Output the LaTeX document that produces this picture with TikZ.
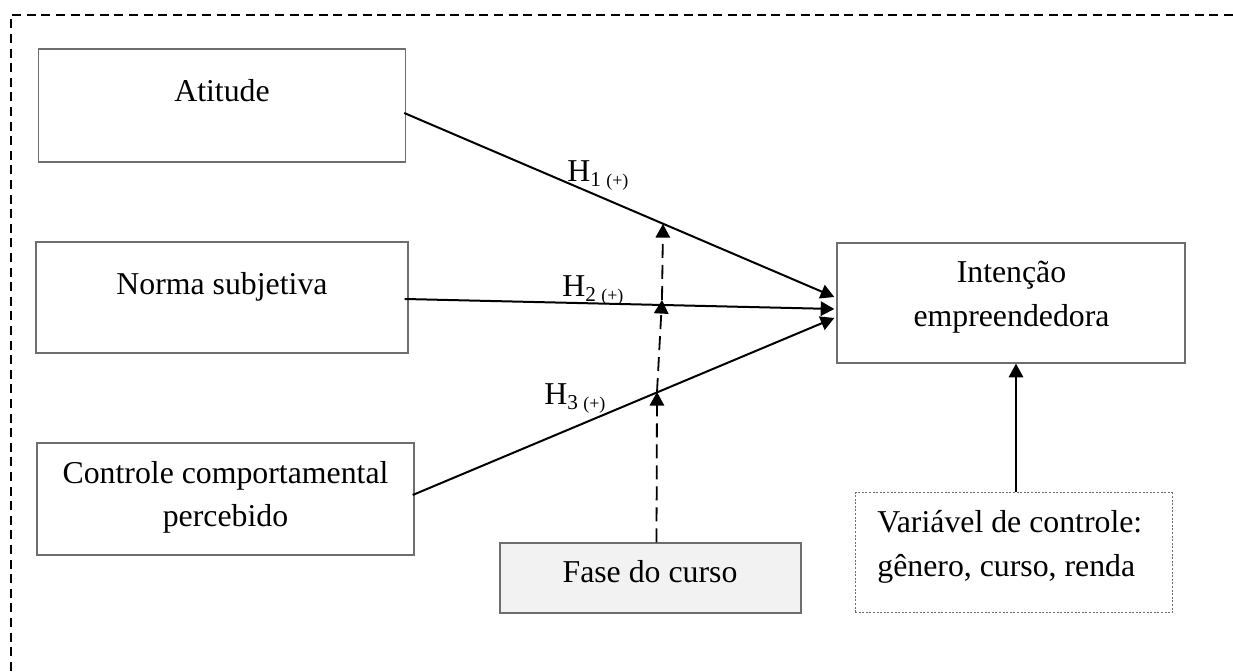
\documentclass[tikz,border=0pt]{standalone}
\usepackage{fontspec}
\setmainfont{Liberation Serif}
\usetikzlibrary{arrows.meta,calc}
\newcommand{\hsub}[1]{\raisebox{-2.5pt}{\fontsize{10.6}{11}\selectfont #1\ \fontsize{9}{10}\selectfont(+)}}
\begin{document}
\begin{tikzpicture}[x=0.5pt,y=-0.5pt,
  box/.style={draw=boxgray,line width=0.7pt,rectangle,inner sep=0pt},
  txt/.style={inner sep=0pt,font=\fontsize{15.9}{21.7}\selectfont},
  hlabel/.style={inner sep=0pt,anchor=base west,font=\fontsize{15.9}{16.8}\selectfont},
  arr/.style={line width=1pt,-{Triangle[length=6.8pt,width=7.2pt]}},
  darr/.style={line width=0.9pt,dash pattern=on 7pt off 3.5pt,-{Triangle[length=6.8pt,width=7.2pt]}},
]
\definecolor{boxgray}{RGB}{110,110,110}
\definecolor{fasefill}{RGB}{242,242,242}
\useasboundingbox (0,0) rectangle (1233,672);
% outer dashed frame (only top and left visible)
\draw[line width=1pt,dash pattern=on 4.5pt off 2.8pt] (11,700) -- (11,15) -- (1260,15);

% boxes
\node[box,minimum width=183.5pt,minimum height=56.5pt] (atitude) at (222,105.5) {};
\node[box,minimum width=186pt,minimum height=55.5pt] (norma) at (222,297.5) {};
\node[box,minimum width=188.5pt,minimum height=56pt] (controle) at (225.5,499) {};
\node[box,fill=fasefill,minimum width=150.5pt,minimum height=35pt] (fase) at (650.5,578) {};
\node[box,draw=boxgray,line width=0.5pt,dash pattern=on 1pt off 0.8pt,minimum width=158.5pt,minimum height=60pt] (variavel) at (1013.5,553) {};
\node[box,minimum width=174pt,minimum height=60pt] (intencao) at (1011,303) {};

% texts
\node[txt,anchor=base] (atitudeT) at (222,102) {Atitude};
\node[txt,anchor=base] (normaT) at (222,295) {Norma subjetiva};
\node[txt,align=center] (controleT) at (225.5,497.5) {Controle comportamental\\percebido};
\node[txt] (faseT) at (650,572) {Fase do curso};
\node[txt,align=left,anchor=west] (variavelT) at (877,546.7) {Variável de controle:\\gênero, curso, renda};
\node[txt,align=center] (intencaoT) at (1011.5,297.2) {Intenção\\empreendedora};

% hypothesis labels
\node[hlabel] (h1) at (567,182) {H\hsub{1}};
\node[hlabel] (h2) at (562,297) {H\hsub{2}};
\node[hlabel] (h3) at (544,405) {H\hsub{3}};

% main arrows
\draw[arr] ([shift={(-2,7.5)}]atitude.east) -- ([shift={(-2,-6)}]intencao.west);
\draw[arr] ([shift={(-4,1.5)}]norma.east) -- ([shift={(-2,6)}]intencao.west);
\draw[arr] ([shift={(-2,-4)}]controle.east) -- ([shift={(-2,15)}]intencao.west);

% moderator dashed arrows
\coordinate (f0) at ([shift={(6,0)}]fase.north);
\coordinate (p3) at (657,392);
\coordinate (p2) at (662,300);
\coordinate (p1) at (663,224);
\draw[darr] (f0) -- (p3);
\draw[darr] (p3) -- (p2);
\draw[darr] (p2) -- (p1);

% control variable arrow
\draw[arr] ([shift={(2.5,0)}]variavel.north) -- ([shift={(2.5,0)}]variavel.north |- intencao.south);
\end{tikzpicture}
\end{document}
